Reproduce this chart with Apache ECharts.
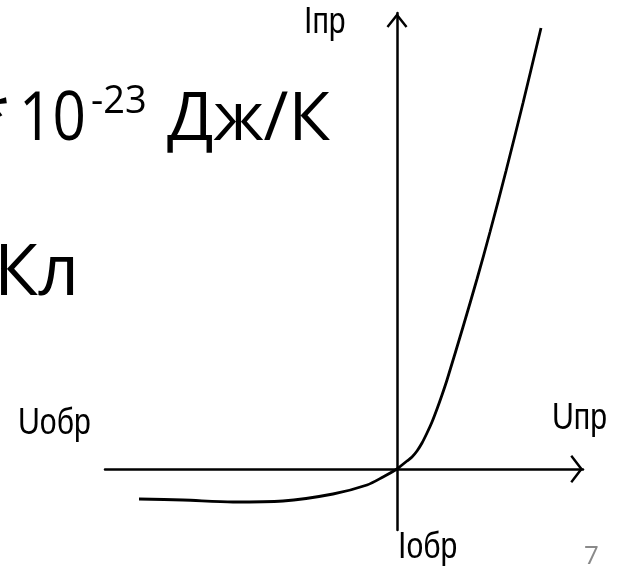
<!DOCTYPE html>
<html>
<head>
<meta charset="utf-8">
<title>ВАХ диода</title>
<script src="https://cdn.jsdelivr.net/npm/echarts@6/dist/echarts.min.js"></script>
<style>
  html, body { margin: 0; padding: 0; background: #fff; }
  #chart { width: 617px; height: 573px; }
</style>
</head>
<body>
<div id="chart"></div>
<script>
// Вольт-амперная характеристика диода (условные единицы)
const voltage = [-2.58, -2.14, -1.64, -1.14, -0.64, -0.30, -0.14, 0.00,
                 0.05, 0.10, 0.15, 0.20, 0.25, 0.30, 0.35, 0.40, 0.45, 0.50,
                 0.66, 0.80, 0.93, 1.09, 1.26, 1.44];
const current = [-0.30, -0.31, -0.33, -0.32, -0.25, -0.16, -0.08, 0.00,
                 0.04, 0.08, 0.12, 0.18, 0.26, 0.36, 0.47, 0.60, 0.74, 0.89,
                 1.42, 1.90, 2.37, 2.98, 3.66, 4.41];

// Подписи осей
const axisLabels = { forwardI: 'Iпр', reverseI: 'Iобр', forwardU: 'Uпр', reverseU: 'Uобр' };
const slideNumber = '7';

// Пределы осей
const xRange = [-2.92, 1.86];
const yRange = [-0.61, 4.56];

const curve = voltage.map((u, i) => [u, current[i]]);

// Открытые стрелки на концах осей
const arrowUp = 'path://M10,0 L20.5,13.2 L18.6,14.7 L10,3.9 L1.4,14.7 L-0.5,13.2 Z';
const arrowRight = 'path://M13.5,0 L27.5,10.8 L25.9,12.7 L13.5,3.2 L1.1,12.7 L-0.5,10.8 Z';

const chart = echarts.init(document.getElementById('chart'), null, { renderer: 'canvas' });

const bigFont = '"Open Sans", "Noto Sans", sans-serif';
const labelFont = '"Liberation Sans", Arial, sans-serif';

function label(text, x, y) {
  return {
    type: 'text', x: x, y: y, scaleX: 0.84,
    style: { text: text, font: '400 36px ' + labelFont, fill: '#000', align: 'left', verticalAlign: 'middle' }
  };
}

chart.setOption({
  animation: false,
  backgroundColor: '#ffffff',
  grid: { left: 105, right: 34, top: 13, bottom: 43 },
  xAxis: {
    type: 'value',
    min: xRange[0],
    max: xRange[1],
    axisLine: {
      show: true,
      onZero: true,
      symbol: ['none', arrowRight],
      symbolSize: [28, 12.7],
      symbolOffset: [0, -6.35],
      lineStyle: { color: '#000', width: 2.5 }
    },
    axisTick: { show: false },
    axisLabel: { show: false },
    splitLine: { show: false }
  },
  yAxis: {
    type: 'value',
    min: yRange[0],
    max: yRange[1],
    axisLine: {
      show: true,
      onZero: true,
      symbol: ['none', arrowUp],
      symbolSize: [21, 14.7],
      symbolOffset: [0, -7.35],
      lineStyle: { color: '#000', width: 2.5 }
    },
    axisTick: { show: false },
    axisLabel: { show: false },
    splitLine: { show: false }
  },
  series: [{
    type: 'line',
    data: curve,
    smooth: 0.3,
    showSymbol: false,
    lineStyle: { color: '#000', width: 2.8 }
  }],
  graphic: [
    { type: 'text', x: 10, y: 121, style: { text: '*', font: '400 68px ' + bigFont, fill: '#000', align: 'right', verticalAlign: 'middle' } },
    { type: 'text', x: 19, y: 121, scaleX: 0.86, style: { text: '10', font: '400 68px ' + bigFont, fill: '#000', align: 'left', verticalAlign: 'middle' } },
    { type: 'text', x: 91, y: 102, style: { text: '-23', font: '400 38px ' + bigFont, fill: '#000', align: 'left', verticalAlign: 'middle' } },
    { type: 'text', x: 167, y: 121, style: { text: 'Дж/К', font: '400 68px ' + bigFont, fill: '#000', align: 'left', verticalAlign: 'middle' } },
    { type: 'text', x: -6, y: 274, style: { text: 'Кл', font: '400 72px ' + bigFont, fill: '#000', align: 'left', verticalAlign: 'middle' } },
    label(axisLabels.forwardI, 304, 23),
    label(axisLabels.forwardU, 552, 419),
    label(axisLabels.reverseU, 18, 424),
    label(axisLabels.reverseI, 398, 548),
    { type: 'text', x: 584, y: 557, style: { text: slideNumber, font: '400 26px ' + bigFont, fill: '#8a8a8a', align: 'left', verticalAlign: 'middle' } }
  ]
});
</script>
</body>
</html>
